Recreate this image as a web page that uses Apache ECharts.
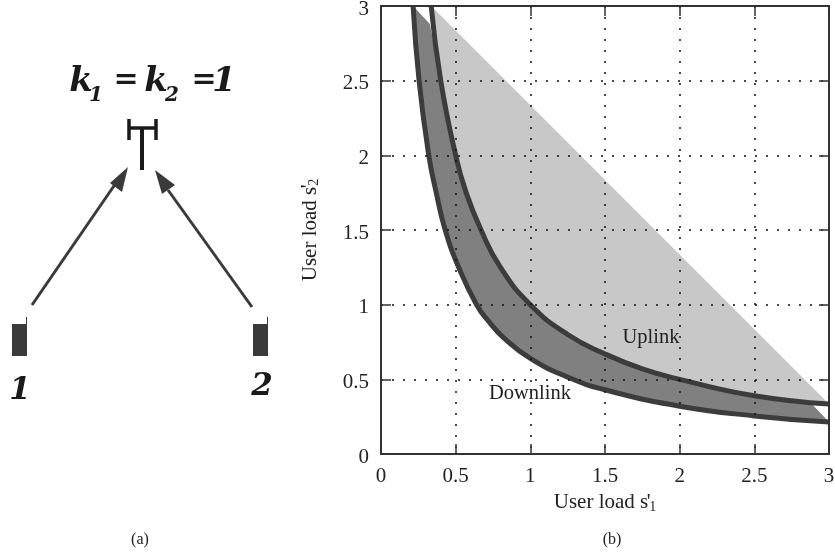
<!DOCTYPE html>
<html>
<head>
<meta charset="utf-8">
<style>html,body{margin:0;padding:0;background:#fff}#c{width:835px;height:558px}</style>
<script src="https://cdn.jsdelivr.net/npm/echarts@6/dist/echarts.min.js"></script>
</head>
<body>
<div id="c"></div>
<script>
const uplink = [[0.336,3],[0.4,2.5],[0.5,2],[0.57,1.75],[0.67,1.5],[0.8,1.25],[1,1],[1.25,0.8],[1.5,0.67],[1.75,0.57],[2,0.5],[2.5,0.39],[3,0.335]];
const downlink = [[0.215,3],[0.255,2.5],[0.32,2],[0.37,1.75],[0.43,1.5],[0.52,1.25],[0.64,1],[0.72,0.89],[0.82,0.78],[1,0.64],[1.25,0.515],[1.5,0.43],[2,0.32],[2.5,0.255],[3,0.214]];
const darkTopEnd = [0.327,2.88];
const darkBottomEnd = [2.89,0.33];
const tickInterval = 0.5;
const axisMax = 3;
const xName = "User load s";
const yName = "User load s";

const font = '"Liberation Serif","Times New Roman",serif';
const ink = '#333';
const gridLine = {show:true, lineStyle:{color:'#111', type:[2,9], width:1.5}};

function poly(api, pts, color){
  return {type:'polygon', shape:{points:pts.map(p=>api.coord(p))}, style:{fill:color}};
}
function nameRich(){
  return {
    m:{fontFamily:font,fontSize:21,color:'#222'},
    p:{fontFamily:font,fontSize:21,color:'#222',verticalAlign:'top',width:1},
    s:{fontFamily:font,fontSize:14,color:'#222',verticalAlign:'bottom',padding:[8,0,0,0]}
  };
}
const valueAxisBase = {
  type:'value', min:0, max:axisMax, interval:tickInterval, z:5,
  axisLine:{show:true, onZero:false, lineStyle:{color:ink,width:2}},
  axisTick:{show:true, inside:true, length:10, lineStyle:{color:ink,width:1.5}},
};
const mainLabel = {show:true, color:'#222', fontFamily:font, fontSize:21, margin:12};

const titleFont = '"DejaVu Serif",serif';
const italicBold = {fontFamily:titleFont, fontWeight:'bold', fontStyle:'italic', fill:'#1a1a1a'};
function seg(x1,y1,x2,y2,w,c){
  return {type:'line',z:20,shape:{x1,y1,x2,y2},style:{stroke:c||'#1a1a1a',lineWidth:w}};
}
function tri(a,b,c){
  return {type:'polygon',z:20,shape:{points:[a,b,c]},style:{fill:'#3a3a3a'}};
}
function rect(x,y,w,h){
  return {type:'rect',z:20,shape:{x,y,width:w,height:h},style:{fill:'#3a3a3a'}};
}
function txt(x,y,t,size,extra){
  return {type:'text',z:20,x,y,style:Object.assign({text:t,fontSize:size,textAlign:'center',textVerticalAlign:'middle'},extra||{})};
}

const diagram = [
  seg(142,128,142,170,4),
  seg(129,128,156,128,3.5),
  seg(129,119,129,140,3.5),
  seg(156,119,156,140,3.5),
  seg(32,305,118,180,3,'#3a3a3a'),
  tri([128,167],[110,183],[122,192]),
  seg(252,307,168,190,3,'#3a3a3a'),
  tri([155,170],[162,194],[175,185]),
  rect(12,324,15,32),
  seg(26.5,317,26.5,325,1,'#3a3a3a'),
  rect(253,324,15,32),
  seg(267.5,317,267.5,325,1,'#3a3a3a'),
  txt(20,391,'1',31,italicBold),
  txt(262,387,'2',31,italicBold),
  txt(81,82,'k',34,italicBold),
  txt(96,96,'1',20,italicBold),
  txt(126,80,'=',30,italicBold),
  txt(156,82,'k',34,italicBold),
  txt(172,96,'2',20,italicBold),
  txt(204,80,'=',30,italicBold),
  txt(224,82,'1',34,italicBold),
  txt(140,540,'(a)',16,{fontFamily:font,fill:'#222'}),
  txt(612,540,'(b)',16,{fontFamily:font,fill:'#222'}),
  txt(651,338,'Uplink',20.5,{fontFamily:font,fill:'#222'}),
  txt(530,394,'Downlink',20.5,{fontFamily:font,fill:'#222'}),
];

const chart = echarts.init(document.getElementById('c'), null, {renderer:'canvas'});
chart.setOption({
  animation:false,
  backgroundColor:'#fff',
  grid:{left:381,top:6,width:448,height:448,show:false,outerBoundsMode:'none'},
  xAxis:[
    Object.assign({},valueAxisBase,{position:'bottom',splitLine:gridLine,axisLabel:mainLabel,
      name:'{m|'+xName+'}{p|\'}{s|1}',nameLocation:'middle',nameGap:36,
      nameTextStyle:{rich:nameRich()}}),
    Object.assign({},valueAxisBase,{position:'top',splitLine:{show:false},axisLabel:{show:false}})
  ],
  yAxis:[
    Object.assign({},valueAxisBase,{position:'left',splitLine:gridLine,
      axisLabel:Object.assign({},mainLabel,{
        formatter:'{t|{value}}',
        rich:{t:{fontFamily:font,fontSize:21,color:'#222',padding:[6,0,0,0]}}
      }),
      name:'{m|'+yName+'}{p|\'}{s|2}',nameLocation:'middle',nameGap:60,
      nameTextStyle:{rich:nameRich()}}),
    Object.assign({},valueAxisBase,{position:'right',splitLine:{show:false},axisLabel:{show:false}})
  ],
  graphic:{elements:diagram},
  series:[
    {type:'custom', coordinateSystem:'cartesian2d', z:1, silent:true, data:[[0,0]],
     renderItem:(p,api)=>({type:'group',children:[
       poly(api, uplink, '#c8c8c8'),
       poly(api, downlink.concat([darkBottomEnd], uplink.slice(1,-1).reverse(), [darkTopEnd]), '#808080')
     ]})},
    {name:'Uplink',type:'line',data:uplink,smooth:0.5,symbol:'none',z:2,lineStyle:{color:'#3c3c3c',width:5}},
    {name:'Downlink',type:'line',data:downlink,smooth:0.5,symbol:'none',z:2,lineStyle:{color:'#3c3c3c',width:5}}
  ]
});
</script>
</body>
</html>
